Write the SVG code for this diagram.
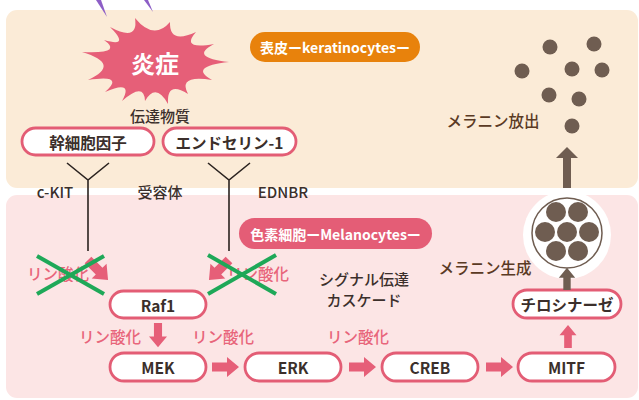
<svg xmlns="http://www.w3.org/2000/svg" xmlns:xlink="http://www.w3.org/1999/xlink" width="639" height="400" viewBox="0 0 639 400">
  <style>
    text { font-family: 'Noto Sans CJK JP', 'Noto Sans', sans-serif; dominant-baseline: central; text-anchor: middle; }
    .dark { fill: #3b2f2b; font-size: 15px; font-weight: 500; }
    .node { fill: #3b2f2b; font-size: 15.5px; font-weight: 600; }
    .pink { fill: #e8657b; font-size: 15.5px; font-weight: 500; }
    .brown { fill: #5a3a24; font-size: 15.5px; font-weight: 500; }
    .badge { fill: #ffffff; font-size: 14px; font-weight: 700; }
    .pill { fill: #ffffff; stroke: #e35d75; stroke-width: 2.8; }
    .recep { fill: none; stroke: #2b2320; stroke-width: 1.6; }
    .cross { stroke: #1ea858; stroke-width: 4; stroke-linecap: butt; }
    .parrow { fill: #e65f78; }
    .barrow { fill: #6f5d51; }
    .mel { fill: #6f5d51; }
  </style>
  <defs>
    <!-- block arrow pointing right, origin at tail centre -->
    <path id="arrowR" d="M0,-4.5 H15 V-10 L27,0 L15,10 V4.5 H0 Z"/>
  </defs>

  <!-- panels -->
  <rect x="6" y="10" width="632" height="178" rx="11" fill="#fbebd7"/>
  <rect x="6" y="195" width="632" height="203" rx="11" fill="#fce5e5"/>

  <!-- incoming purple strokes -->
  <polygon points="96,0 101,0 107,17" fill="#8d5ec6"/>
  <polygon points="144,0 148,0 153,12" fill="#8d5ec6"/>

  <g id="inflammation">
    <path fill="#e65f78" d="M135,18 Q153.8,41 170,22 Q169,44.5 196,32 Q180,50 214,44 Q188.3,57.5 229,62 Q187.8,66.5 212,80 Q177.5,74.5 188,94 Q166.5,80.5 168,104 Q155.8,82.3 145,101 Q144.3,81.5 122,101 Q134.3,79.3 105,92 Q125.8,74 88,80 Q122,64 82,52 Q124,54 104,40 Q131,47.8 110,27 Q138.8,42.3 135,18 Z"/>
    <text x="155" y="62" style="fill:#ffffff;font-size:24px;font-weight:700">炎症</text>
  </g>

  <text class="dark" x="160" y="115">伝達物質</text>

  <g id="keratinocyte-label">
    <rect x="250" y="32" width="170" height="30" rx="15" fill="#e8820c"/>
    <text class="badge" x="335" y="47">表皮ーkeratinocytesー</text>
  </g>

  <g id="scf">
    <rect class="pill" x="22" y="128" width="132" height="27" rx="13.5"/>
    <text class="node" x="88" y="141.5">幹細胞因子</text>
  </g>
  <g id="endothelin">
    <rect class="pill" x="163" y="128" width="133" height="27" rx="13.5"/>
    <text class="node" x="229.5" y="141.5">エンドセリン-1</text>
  </g>

  <g id="receptors">
    <path class="recep" d="M67,163 L88,180 L109,163 M88,180 V251"/>
    <path class="recep" d="M208,163 L229,180 L250,163 M229,180 V251"/>
    <text class="dark" x="55" y="191">c-KIT</text>
    <text class="dark" x="160" y="191">受容体</text>
    <text class="dark" x="283" y="191">EDNBR</text>
  </g>

  <g id="melanin-release">
    <circle class="mel" cx="550" cy="47" r="7.5"/>
    <circle class="mel" cx="594" cy="44" r="7.5"/>
    <circle class="mel" cx="522" cy="71" r="7.5"/>
    <circle class="mel" cx="572" cy="69" r="7.5"/>
    <circle class="mel" cx="602" cy="70" r="7.5"/>
    <circle class="mel" cx="549" cy="95" r="7.5"/>
    <circle class="mel" cx="579" cy="99" r="7.5"/>
    <circle class="mel" cx="572" cy="126" r="7.5"/>
    <text class="brown" x="493" y="120">メラニン放出</text>
  </g>

  <g id="melanocyte-label">
    <rect x="239" y="218" width="193" height="31" rx="15.5" fill="#e45d76"/>
    <text class="badge" x="335.5" y="233.5">色素細胞ーMelanocytesー</text>
  </g>

  <!-- blocked phosphorylation -->
  <g id="blocked-left">
    <text class="pink" x="58" y="273">リン酸化</text>
    <use xlink:href="#arrowR" class="parrow" transform="translate(88,260) rotate(45) scale(1.05)"/>
    <line class="cross" x1="37" y1="256" x2="104" y2="294"/>
    <line class="cross" x1="37" y1="294" x2="104" y2="256"/>
  </g>
  <g id="blocked-right">
    <text class="pink" x="258" y="273">リン酸化</text>
    <use xlink:href="#arrowR" class="parrow" transform="translate(229,260) rotate(135) scale(1.05)"/>
    <line class="cross" x1="208" y1="255" x2="276" y2="294"/>
    <line class="cross" x1="208" y1="294" x2="276" y2="255"/>
  </g>

  <text class="dark" x="364" y="278">シグナル伝達</text>
  <text class="dark" x="364" y="299">カスケード</text>

  <g id="raf1">
    <rect class="pill" x="110" y="291" width="96" height="27" rx="13.5"/>
    <text class="node" x="158" y="304.5">Raf1</text>
  </g>
  <g id="mek">
    <rect class="pill" x="110" y="353" width="96" height="28" rx="14"/>
    <text class="node" x="158" y="367">MEK</text>
  </g>
  <g id="erk">
    <rect class="pill" x="245" y="353" width="96" height="28" rx="14"/>
    <text class="node" x="293" y="367">ERK</text>
  </g>
  <g id="creb">
    <rect class="pill" x="382" y="353" width="96" height="28" rx="14"/>
    <text class="node" x="430" y="367">CREB</text>
  </g>
  <g id="mitf">
    <rect class="pill" x="518" y="353" width="97" height="28" rx="14"/>
    <text class="node" x="566.5" y="367">MITF</text>
  </g>
  <g id="tyrosinase">
    <rect class="pill" x="513" y="290" width="108" height="28" rx="14"/>
    <text class="node" x="567" y="304">チロシナーゼ</text>
  </g>

  <g id="melanosome">
    <rect class="barrow" x="563" y="157" width="8" height="31"/>
    <polygon class="barrow" points="567,147 578,158 556,158"/>
    <circle cx="567" cy="235" r="44" fill="#ffffff"/>
    <circle cx="567" cy="233" r="35" fill="none" stroke="#6f5d51" stroke-width="1.5"/>
    <circle class="mel" cx="556" cy="212" r="10"/>
    <circle class="mel" cx="578" cy="212" r="10"/>
    <circle class="mel" cx="545" cy="232" r="10"/>
    <circle class="mel" cx="567" cy="232" r="10"/>
    <circle class="mel" cx="589" cy="232" r="10"/>
    <circle class="mel" cx="556" cy="251" r="10"/>
    <circle class="mel" cx="578" cy="251" r="10"/>
  </g>

  <text class="brown" x="485" y="267">メラニン生成</text>

  <g id="connectors">
    <use xlink:href="#arrowR" class="parrow" transform="translate(158,323) rotate(90) scale(0.9)"/>
    <use xlink:href="#arrowR" class="parrow" transform="translate(212,367)"/>
    <use xlink:href="#arrowR" class="parrow" transform="translate(349,367)"/>
    <use xlink:href="#arrowR" class="parrow" transform="translate(486,367)"/>
    <use xlink:href="#arrowR" class="parrow" transform="translate(568,348) rotate(-90) scale(0.85)"/>
    <use xlink:href="#arrowR" class="barrow" transform="translate(567,290) rotate(-90) scale(0.82)"/>
    <text class="pink" x="110" y="336">リン酸化</text>
    <text class="pink" x="223" y="336">リン酸化</text>
    <text class="pink" x="358" y="336">リン酸化</text>
  </g>
</svg>
